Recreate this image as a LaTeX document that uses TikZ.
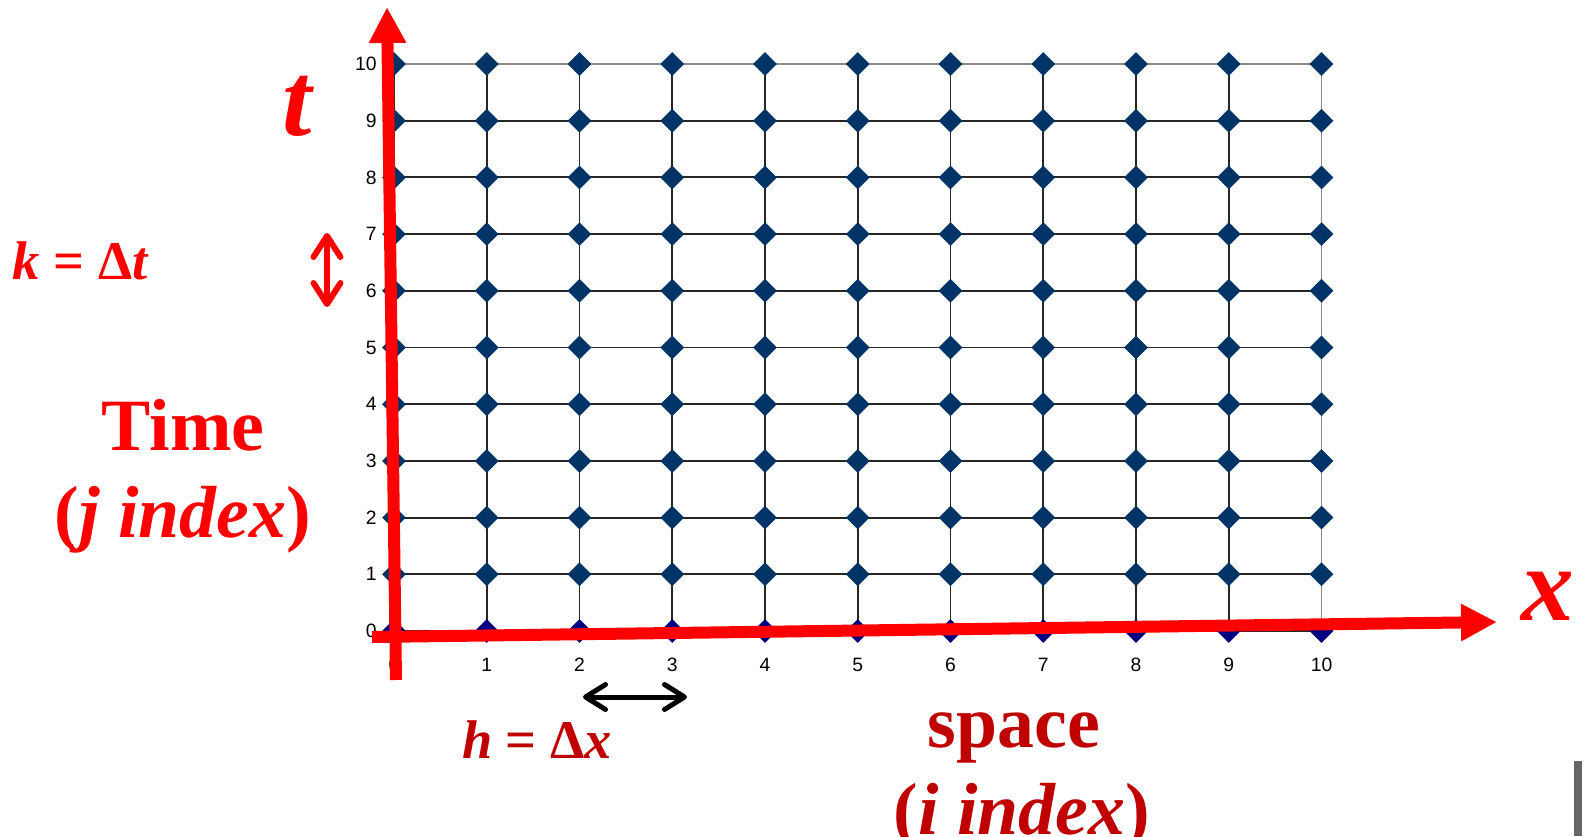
\documentclass[tikz,border=0pt]{standalone}
\usepackage{fontspec}
\setmainfont{Liberation Serif}
\newfontfamily\ticksf{Liberation Sans}
\usepackage{xcolor}
\usepackage{tikz}
\usetikzlibrary{shapes.geometric, arrows.meta}
\definecolor{nodeblue}{RGB}{0,51,102}
\definecolor{basenavy}{RGB}{0,0,128}
\definecolor{darkred}{RGB}{192,0,0}
\definecolor{bargray}{RGB}{102,102,102}

\begin{document}
\begin{tikzpicture}[
    x=0.02cm, y=-0.02cm,
    gridline/.style={line width=1.1pt, black!85},
    edgeline/.style={line width=1.1pt, gray!90},
    gridpt/.style={diamond, fill=nodeblue, inner sep=0pt,
                   minimum width=0.48cm, minimum height=0.48cm},
    basept/.style={gridpt, fill=basenavy},
    ticklbl/.style={font=\ticksf\fontsize{11}{13}\selectfont, inner sep=0pt},
    axis/.style={line width=0.24cm, red, -{Triangle[length=0.72cm, width=0.7cm]}},
    redspan/.style={line width=0.12cm, red, line cap=round,
                    {Straight Barb[length=0.42cm, width=0.54cm, round]}-{Straight Barb[length=0.42cm, width=0.54cm, round]}},
    blackspan/.style={line width=0.1cm, black, line cap=round,
                      {Straight Barb[length=0.4cm, width=0.5cm, round]}-{Straight Barb[length=0.4cm, width=0.5cm, round]}},
    axislbl/.style={font=\fontsize{60}{60}\selectfont\bfseries\itshape, text=red, inner sep=0pt},
    steplbl/.style={font=\fontsize{31}{36}\selectfont\bfseries, inner sep=0pt},
    namelbl/.style={font=\fontsize{42}{50}\selectfont\bfseries, inner sep=0pt}
]
\useasboundingbox (0,0) rectangle (1587,836);

% Mesh points
\foreach \i in {0,...,10} {
  \foreach \j in {0,...,10} {
    \coordinate (g-\i-\j) at ({394+92.75*\i}, {631-56.7*\j});
  }
}

% Mesh lines
\foreach \j in {0,...,9} \draw[gridline] (g-0-\j) -- (g-10-\j);
\draw[edgeline] (g-0-10) -- (g-10-10);
\foreach \i in {0,...,9} \draw[gridline] (g-\i-0) -- (g-\i-10);
\draw[edgeline] (g-10-0) -- (g-10-10);

% Diamonds
\foreach \i in {0,...,10} {
  \node[basept] (d-\i-0) at (g-\i-0) {};
  \foreach \j in {1,...,10} \node[gridpt] (d-\i-\j) at (g-\i-\j) {};
}

% Tick labels
\foreach \j in {0,...,10} \node[ticklbl, anchor=east] (ty\j) at ([xshift=-0.34cm]g-0-\j) {\j};
\foreach \i in {0,...,10} \node[ticklbl] (tx\i) at ([yshift=-0.68cm]g-\i-0) {\i};

% Axes
\coordinate (tbot) at (396,680);
\coordinate (ttop) at (387,7);
\coordinate (xleft) at (372,637);
\coordinate (xright) at (1497,622);
\draw[axis] (tbot) -- (ttop);
\draw[axis] (xleft) -- (xright);

% Step sizes
\coordinate (ktop) at (327,233);
\coordinate (kbot) at (327,307);
\draw[redspan] (ktop) -- (kbot);
\coordinate (hleft) at (583,697);
\coordinate (hright) at (687,697);
\draw[blackspan] (hleft) -- (hright);

% Labels
\node[axislbl, anchor=base] (tlbl) at (297,135) {t};
\node[axislbl, anchor=base] (xlbl) at (1548,620) {x};
\node[steplbl, text=red, anchor=base] (klbl) at (80,279) {{\itshape k} = Δ{\itshape t}};
\node[steplbl, text=darkred, anchor=base] (hlbl) at (537,758) {{\itshape h} = Δ{\itshape x}};
\node[namelbl, text=red, anchor=base] (timelbl) at (183,450) {Time};
\node[namelbl, text=red, anchor=base] (jlbl) at (183,537) {({\itshape j index})};
\node[namelbl, text=darkred, anchor=base] (spacelbl) at (1014,747) {space};
\node[namelbl, text=darkred, anchor=base] (ilbl) at (1022,834) {({\itshape i index})};

% Edge bar
\fill[bargray] (1574,761) rectangle (1582,836);

\end{tikzpicture}
\end{document}
